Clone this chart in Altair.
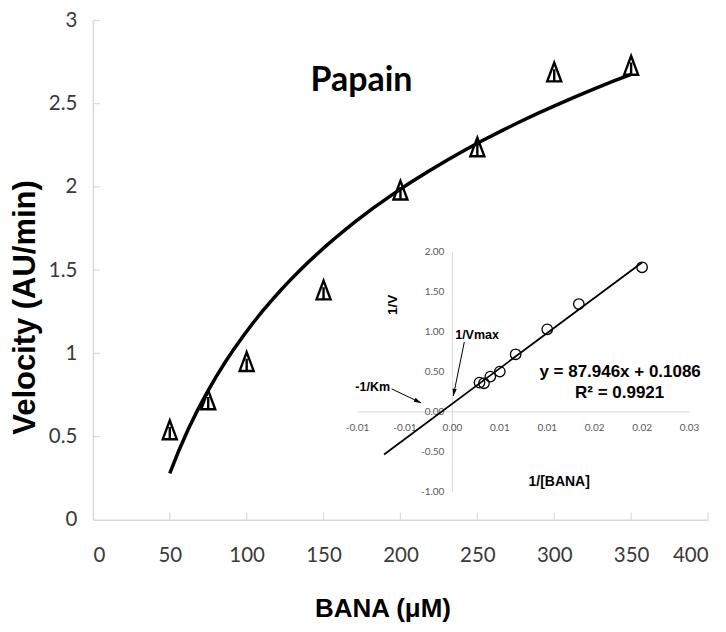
import altair as alt
import pandas as pd

# ---------------- data ----------------
conc = [50, 75, 100, 150, 200, 250, 300, 350]
velocity = [0.54, 0.72, 0.95, 1.38, 1.98, 2.24, 2.69, 2.73]

inv_conc = [0.00286, 0.00333, 0.00400, 0.00500, 0.00667, 0.01000, 0.01333, 0.02000]
inv_vel = [0.367, 0.358, 0.442, 0.504, 0.721, 1.033, 1.350, 1.810]

main_x_ticks = [0, 50, 100, 150, 200, 250, 300, 350, 400]
main_y_ticks = [0, 0.5, 1, 1.5, 2, 2.5, 3]

inset_x_ticks = [-0.01, -0.005, 0.0, 0.005, 0.01, 0.015, 0.02, 0.025]
inset_x_labels = ["-0.01", "-0.01", "0.00", "0.01", "0.01", "0.02", "0.02", "0.03"]
inset_y_ticks = [2.0, 1.5, 1.0, 0.5, 0.0, -0.5, -1.0]
inset_y_labels = ["2.00", "1.50", "1.00", "0.50", "0.00", "-0.50", "-1.00"]
fit_extent = [-0.0072, 0.0200]

equation_text = "y = 87.946x + 0.1086"
r2_text = "R² = 0.9921"

LABEL = "Lato, Open Sans, sans-serif"
BOLD = "Liberation Sans, Arial, sans-serif"

df_main = pd.DataFrame({"conc": conc, "velocity": velocity})
df_inset = pd.DataFrame({"inv_conc": inv_conc, "inv_vel": inv_vel})

# ---------------- main chart ----------------
xs = alt.Scale(domain=[0, 400], nice=False, zero=False)
ys = alt.Scale(domain=[0, 3], nice=False, zero=False)
xaxis = alt.Axis(values=main_x_ticks, title="BANA (μM)", ticks=False, tickSize=0,
                 labelPadding=26, labelFontSize=20.5, labelFont=LABEL, labelColor="#3a3a3a",
                 domainColor="#d9d9d9", domainWidth=1.5, grid=False,
                 titleFont=BOLD, titleFontSize=26, titleFontWeight="bold", titleColor="black",
                 titleX=290, titleY=89, titleBaseline="middle", titleAnchor="start", titleAlign="center")
yaxis = alt.Axis(values=main_y_ticks, title="Velocity (AU/min)", format="~g", ticks=False, tickSize=0,
                 labelPadding=16, labelFontSize=20.5, labelFont=LABEL, labelColor="#3a3a3a",
                 domainColor="#d9d9d9", domainWidth=1.5, grid=False,
                 titleFont=BOLD, titleFontSize=31, titleFontWeight="bold", titleColor="black",
                 titleX=-51, titleY=287, titleBaseline="bottom", titleAnchor="start", titleAlign="center",
                 titleAngle=270)

X = lambda f: alt.X(f, scale=xs, axis=xaxis)
Y = lambda f: alt.Y(f, scale=ys, axis=yaxis)

curve = alt.Chart(df_main).transform_regression(
    "conc", "velocity", method="log"
).mark_line(color="black", strokeWidth=3.5).encode(x=X("conc:Q"), y=Y("velocity:Q"))

tri_path = "M0,-1L0.75,1L-0.75,1ZM0,-0.3L0,1"
points = alt.Chart(df_main).mark_point(
    shape=tri_path, filled=False, stroke="black", strokeWidth=2.4, size=350, opacity=1
).encode(x=X("conc:Q"), y=Y("velocity:Q"))

xtick_rules = alt.Chart(pd.DataFrame({"conc": main_x_ticks[1:]})).mark_rule(
    color="#d9d9d9", strokeWidth=1.2
).encode(x=X("conc:Q"), y=alt.value(500), y2=alt.value(493))

ytick_rules = alt.Chart(pd.DataFrame({"velocity": main_y_ticks[1:]})).mark_rule(
    color="#d9d9d9", strokeWidth=1.2
).encode(y=Y("velocity:Q"), x=alt.value(0), x2=alt.value(7))

papain = alt.Chart(pd.DataFrame({"t": ["Papain"]})).mark_text(
    font="Lato", fontSize=34, fontWeight="bold", color="black", align="center", baseline="middle"
).encode(text="t:N", x=alt.value(269), y=alt.value(61))

main = alt.layer(ytick_rules, xtick_rules, curve, points, papain)

# ---------------- inset (Lineweaver-Burk) ----------------
isx = alt.Scale(domain=[-0.01, 0.025], range=[265, 597.5], nice=False, zero=False)
isy = alt.Scale(domain=[-1, 2], range=[472, 232], nice=False, zero=False)
IX = lambda f: alt.X(f, scale=isx, axis=None)
IY = lambda f: alt.Y(f, scale=isy, axis=None)
DX = lambda v: alt.X(datum=v, scale=isx, axis=None)
DY = lambda v: alt.Y(datum=v, scale=isy, axis=None)

one = pd.DataFrame({"k": [0]})
ax_h = alt.Chart(one).mark_rule(color="#d9d9d9", strokeWidth=1).encode(
    x=DX(inset_x_ticks[0]), x2=alt.X2(datum=inset_x_ticks[-1]), y=DY(0))
ax_v = alt.Chart(one).mark_rule(color="#d9d9d9", strokeWidth=1).encode(
    x=DX(0), y=DY(inset_y_ticks[-1]), y2=alt.Y2(datum=inset_y_ticks[0]))

xl = alt.Chart(pd.DataFrame({"v": inset_x_ticks, "lab": inset_x_labels})).mark_text(
    font=LABEL, fontSize=10, color="#595959", align="center", baseline="middle", dy=16
).encode(x=IX("v:Q"), y=DY(0), text="lab:N")
yl = alt.Chart(pd.DataFrame({"v": inset_y_ticks, "lab": inset_y_labels})).mark_text(
    font=LABEL, fontSize=10, color="#595959", align="right", baseline="middle", dx=-8
).encode(y=IY("v:Q"), x=DX(0), text="lab:N")

fit = alt.Chart(df_inset).transform_regression(
    "inv_conc", "inv_vel", method="linear", extent=fit_extent
).mark_line(color="black", strokeWidth=1.8).encode(x=IX("inv_conc:Q"), y=IY("inv_vel:Q"))

circles = alt.Chart(df_inset).mark_point(
    shape="circle", filled=False, stroke="black", strokeWidth=1.3, size=110, opacity=1
).encode(x=IX("inv_conc:Q"), y=IY("inv_vel:Q"))

def label(text, x, y, size, font=BOLD, weight="bold", angle=0, align="center"):
    return alt.Chart(pd.DataFrame({"t": [text]})).mark_text(
        font=font, fontSize=size, fontWeight=weight, color="black", align=align,
        baseline="middle", angle=angle
    ).encode(text="t:N", x=DX(x), y=DY(y))

texts = [
    label("1/V", -0.0063, 1.34, 13.5, angle=270),
    label("1/[BANA]", 0.01126, -0.875, 14),
    label("1/Vmax", 0.0026, 0.96, 12.5),
    label("-1/Km", -0.0084, 0.31, 12.5),
    label(equation_text, 0.01768, 0.50, 17),
    label(r2_text, 0.01763, 0.2375, 17),
]

def arrow(x0, y0, x1, y1, ang):
    line = alt.Chart(one).mark_rule(color="black", strokeWidth=1).encode(
        x=DX(x0), y=DY(y0), x2=alt.X2(datum=x1), y2=alt.Y2(datum=y1))
    head = alt.Chart(one).mark_point(
        shape="M0,0L0.45,1.5L-0.45,1.5Z", filled=True, color="black", size=90, angle=ang, opacity=1
    ).encode(x=DX(x1), y=DY(y1))
    return [line, head]

arrows = arrow(0.00126, 0.875, 0.0001, 0.20, 191) + arrow(-0.0064, 0.2875, -0.0033, 0.1125, 116)

inset = alt.layer(ax_h, ax_v, xl, yl, fit, circles, *texts, *arrows)

chart = alt.layer(main, inset).resolve_scale(
    x="independent", y="independent"
).properties(
    width=616, height=500,
    padding={"left": 85, "top": 12, "right": 10, "bottom": 103},
    autosize=alt.AutoSizeParams(type="none"),
).configure_view(stroke=None)

chart.save("out.html", embed_options={"renderer": "svg", "actions": False})
